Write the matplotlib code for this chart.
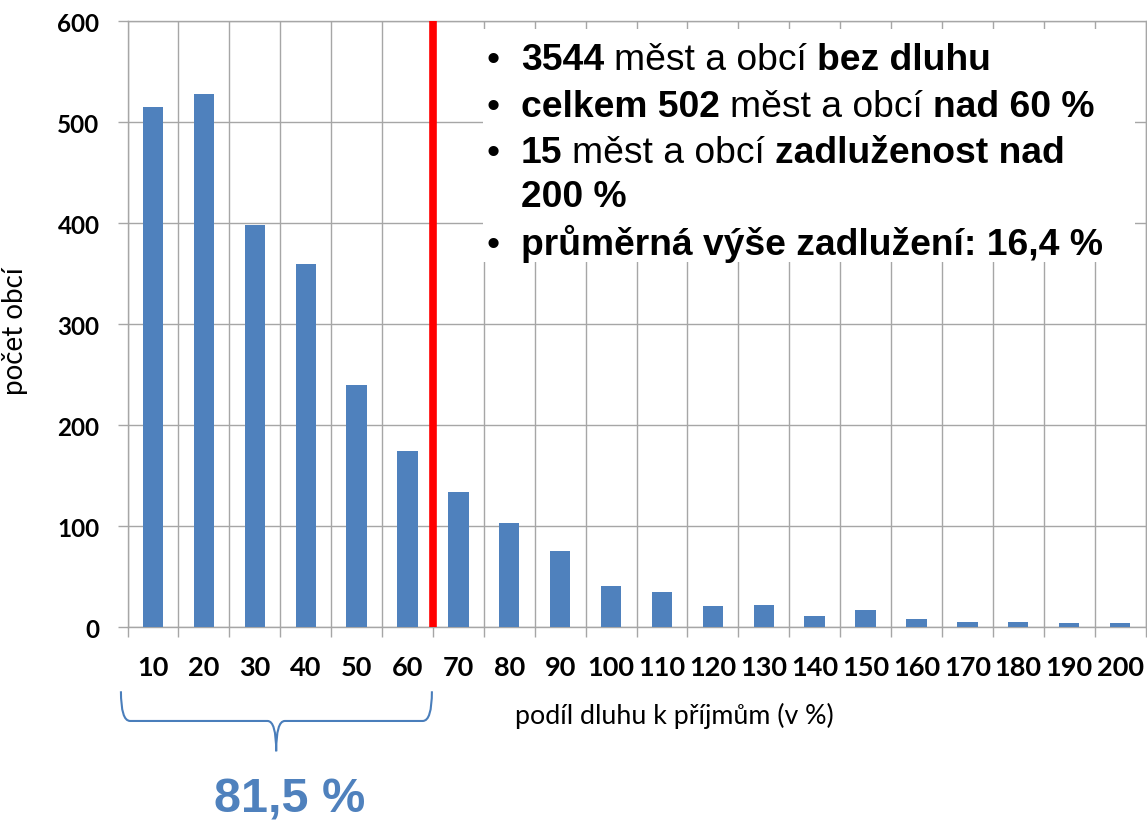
import matplotlib.pyplot as plt
import matplotlib.transforms as mtransforms
from matplotlib.patches import Rectangle, PathPatch
from matplotlib.path import Path

# data
kategorie = ['10', '20', '30', '40', '50', '60', '70', '80', '90', '100',
             '110', '120', '130', '140', '150', '160', '170', '180', '190', '200']
pocet = [515, 528, 398, 359, 240, 174, 134, 103, 75, 41,
         35, 21, 22, 11, 17, 8, 5, 5, 4, 4]
y_ticks = [0, 100, 200, 300, 400, 500, 600]
hranice_60 = 5.5   # boundary between 60 and 70

# (text, bold) segments per line, and whether line has bullet
radky = [
    [('3544', True), ('měst a obcí', False), ('bez dluhu', True)],
    [('celkem 502', True), ('měst a obcí', False), ('nad 60 %', True)],
    [('15', True), ('měst a obcí', False), ('zadluženost nad', True)],
    [('200 %', True)],
    [('průměrná výše zadlužení: 16,4 %', True)],
]
odrazky = [True, True, True, False, True]
podil_text = '81,5 %'

grid_col = '#A6A6A6'
bar_col = '#4F81BD'

fig = plt.figure(figsize=(11.47, 8.28), dpi=100)
ax = fig.add_axes([0.1112, 0.2415, 0.8875, 0.7319])
ax.set_axisbelow(True)

x = list(range(len(pocet)))
ax.bar(x, pocet, width=0.4, color=bar_col, zorder=3)
ax.set_xlim(-0.5, len(pocet) - 0.5)
ax.set_ylim(0, 600)

ax.set_xticks(x)
ax.set_xticklabels(kategorie, family='Lato', fontweight='bold', fontsize=19.5)
ax.set_xticks([i - 0.5 for i in range(len(pocet) + 1)], minor=True)
ax.tick_params(axis='x', which='major', length=0, pad=20)
ax.tick_params(axis='x', which='minor', length=7.2, color=grid_col, width=1)
ax.set_yticks(y_ticks)
ax.set_yticklabels([str(v) for v in y_ticks], family='Lato', fontweight='bold', fontsize=17.5)
ax.tick_params(axis='y', length=7.2, color=grid_col, width=1, pad=13)
ax.grid(axis='x', which='minor', color=grid_col, lw=1)
ax.grid(axis='y', which='major', color=grid_col, lw=1)
for s in ax.spines.values():
    s.set_color(grid_col)
    s.set_linewidth(1)

ax.set_ylabel('počet obcí', family='Lato', fontsize=20)
ax.yaxis.set_label_coords(-0.098, 0.49)
ax.set_xlabel('podíl dluhu k příjmům (v %)', family='Lato', fontsize=19.3)
ax.xaxis.set_label_coords(0.537, -0.145)
ax.xaxis.label.set_va('center')

ax.axvline(hranice_60, color='#FF0000', lw=5.5, zorder=4)

# white box behind the bullet text
ax.add_patch(Rectangle((0.349, 0.602), 0.641, 0.385, transform=ax.transAxes,
                       facecolor='white', edgecolor='none', zorder=1))

# bullet text, mixed bold / regular
fig.canvas.draw()
renderer = fig.canvas.get_renderer()
px = mtransforms.IdentityTransform()
H = 828
fs = 26.8
space = 10
baseline = [70, 117, 163, 207, 255]
for line, bullet, yb in zip(radky, odrazky, baseline):
    if bullet:
        fig.text(486, H - yb, '•', transform=px, family='Liberation Sans',
                 fontsize=fs, va='baseline', ha='left')
    xp = 521
    for txt, bold in line:
        t = fig.text(xp, H - yb, txt, transform=px, family='Liberation Sans',
                     fontsize=fs, fontweight='bold' if bold else 'normal',
                     va='baseline', ha='left')
        bb = t.get_window_extent(renderer)
        xp = bb.x1 + space

# brace under 10-60
tr = mtransforms.blended_transform_factory(ax.transData, ax.transAxes)
xl, xr = -0.63, hranice_60 - 0.02
xm = 2.42
yt, yh, yc = -0.106, -0.155, -0.205
verts = [(xl, yt), (xl, yh), (xl + 0.18, yh), (xm - 0.17, yh),
         (xm, yh), (xm, yc), (xm, yh), (xm + 0.17, yh),
         (xr - 0.18, yh), (xr, yh), (xr, yt)]
codes = [Path.MOVETO, Path.CURVE3, Path.CURVE3, Path.LINETO,
         Path.CURVE3, Path.CURVE3, Path.CURVE3, Path.CURVE3,
         Path.LINETO, Path.CURVE3, Path.CURVE3]
ax.add_patch(PathPatch(Path(verts, codes), transform=tr, facecolor='none',
                       edgecolor='#4A7EBB', lw=1.5, clip_on=False))
ax.text(2.69, -0.284, podil_text, transform=tr, ha='center', va='center',
        family='Liberation Sans', fontweight='bold', fontsize=35, color=bar_col)

fig.savefig('out.png', dpi=100)
